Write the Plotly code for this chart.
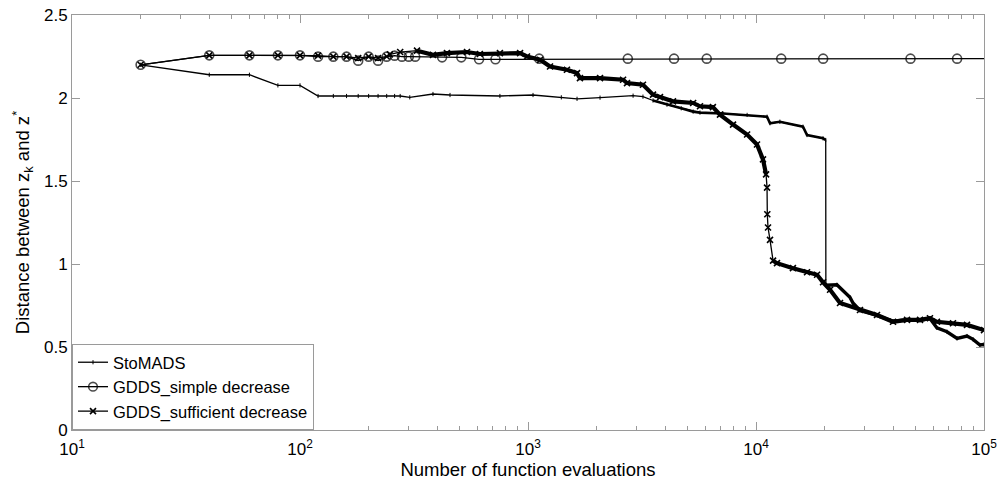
import plotly.graph_objects as go

# ---------------- data ----------------
simple_x = [20, 40, 60, 80, 100, 120, 140, 160, 180, 200, 220, 240, 260, 280, 300,
            320, 420, 510, 610, 720, 1120, 2740, 4370, 6080, 12900, 19700, 47600,
            76200, 100000]
simple_y = [2.20, 2.257, 2.257, 2.257, 2.257, 2.249, 2.249, 2.249, 2.225, 2.249,
            2.225, 2.249, 2.255, 2.249, 2.249, 2.249, 2.245, 2.245, 2.233, 2.233,
            2.237, 2.237, 2.237, 2.237, 2.237, 2.237, 2.237, 2.237, 2.237]

sto_x = [20, 40, 60, 80, 100, 120, 140, 160, 180, 200, 220, 240, 260, 275, 303,
         383, 455, 753, 1052, 1400, 1641, 2070, 2890, 3193, 3535, 4070, 4700, 5300,
         5680, 7160, 9140, 11180, 11520, 12730, 16070, 16740, 19680, 20220,
         20250, 22640, 25820, 26620, 28580, 33940, 39900, 45960, 52400, 57940,
         62170, 68800, 76200, 84200, 89560, 96000, 100000]
sto_y = [2.20, 2.14, 2.14, 2.076, 2.076, 2.012, 2.012, 2.012, 2.012, 2.012, 2.012,
         2.012, 2.012, 2.012, 2.004, 2.024, 2.018, 2.012, 2.018, 2.004, 1.995,
         2.002, 2.014, 2.008, 1.985, 1.960, 1.938, 1.918, 1.912, 1.907, 1.898,
         1.887, 1.848, 1.857, 1.827, 1.777, 1.757, 1.747,
         0.873, 0.875, 0.800, 0.765, 0.720, 0.690, 0.655, 0.665, 0.660, 0.672,
         0.615, 0.592, 0.552, 0.566, 0.546, 0.512, 0.515]

suff_x = [20, 40, 60, 80, 100, 120, 140, 160, 180, 200, 220, 240, 248, 275, 326,
          383, 441, 540, 615, 753, 923, 990, 1130, 1249, 1482, 1641, 1690, 2070,
          2612, 2718, 3193, 3535, 3793, 4325, 5300, 5680, 6470, 6950, 7930, 9140,
          10100, 10730, 11070, 11180, 11210, 11290, 11520, 11880, 12360, 14520,
          16740, 18530, 19680, 21130, 23360, 28580, 33940, 39900, 45960, 52400,
          57940, 62170, 73100, 84200, 100000]
suff_y = [2.20, 2.257, 2.257, 2.257, 2.257, 2.255, 2.249, 2.249, 2.240, 2.249,
          2.240, 2.250, 2.263, 2.277, 2.285, 2.260, 2.270, 2.277, 2.265, 2.270,
          2.270, 2.250, 2.230, 2.190, 2.170, 2.150, 2.120, 2.120, 2.110, 2.090,
          2.080, 2.020, 2.005, 1.980, 1.970, 1.950, 1.945, 1.900, 1.840, 1.780,
          1.720, 1.630, 1.540, 1.460, 1.300, 1.220, 1.145, 1.020, 1.005, 0.975,
          0.950, 0.935, 0.890, 0.845, 0.765, 0.723, 0.693, 0.652, 0.663, 0.663,
          0.673, 0.652, 0.643, 0.633, 0.602]

names = ["StoMADS", "GDDS_simple decrease", "GDDS_sufficient decrease"]
x_tick_vals = [10, 100, 1000, 10000, 100000]
x_tick_text = ["10<sup>1</sup>", "10<sup>2</sup>", "10<sup>3</sup>",
               "10<sup>4</sup>", "10<sup>5</sup>"]
x_minor_vals = [m * d for d in (10, 100, 1000, 10000) for m in range(2, 10)]
y_tick_vals = [0, 0.5, 1, 1.5, 2, 2.5]
y_tick_text = ["0", "0.5", "1", "1.5", "2", "2.5"]

# ---------------- figure ----------------
FONT = "Liberation Sans, Arial, sans-serif"
AX = "#9a9a9a"
fig = go.Figure()

# dense-evaluation bands (thick look of densely packed markers)
def band(xs, ys, a, b, w):
    fig.add_trace(go.Scatter(x=xs[a:b], y=ys[a:b], mode="lines",
                             line=dict(color="black", width=w),
                             showlegend=False, hoverinfo="skip"))

i_sto_drop = sto_x.index(20220)
i_sto_start = sto_x.index(3535)
band(sto_x, sto_y, i_sto_start, i_sto_drop + 1, 2.6)
band(sto_x, sto_y, i_sto_drop + 1, len(sto_x), 3.4)

i_suf_a = suff_x.index(326)
i_suf_b = suff_x.index(11070)
i_suf_c = suff_x.index(11880)
band(suff_x, suff_y, i_suf_a, i_suf_b + 1, 4.2)
band(suff_x, suff_y, i_suf_c, len(suff_x), 4.2)

fig.add_trace(go.Scatter(
    x=sto_x, y=sto_y, name=names[0], mode="lines+markers",
    line=dict(color="black", width=1.3),
    marker=dict(symbol="line-ns", size=3, color="black",
                line=dict(color="black", width=1))))
fig.add_trace(go.Scatter(
    x=simple_x, y=simple_y, name=names[1], mode="lines+markers",
    line=dict(color="black", width=1.3),
    marker=dict(symbol="circle-open", size=[9] * (len(simple_x) - 1) + [0],
                color="black", line=dict(color="black", width=1.6))))
fig.add_trace(go.Scatter(
    x=suff_x, y=suff_y, name=names[2], mode="lines+markers",
    line=dict(color="black", width=1.3),
    marker=dict(symbol="x-thin", size=6, color="black",
                line=dict(color="black", width=1.6))))

fig.update_layout(
    width=1000, height=486,
    margin=dict(l=72, r=16, t=15, b=56),
    paper_bgcolor="white", plot_bgcolor="white",
    font=dict(family=FONT, size=17, color="black"),
    legend=dict(x=0.0, y=0.0, xanchor="left", yanchor="bottom",
                bgcolor="white", bordercolor=AX, borderwidth=1,
                font=dict(size=16.5), itemwidth=30, tracegroupgap=0,
                traceorder="normal"),
    xaxis=dict(type="log", range=[1, 5], tickmode="array",
               tickvals=x_tick_vals, ticktext=x_tick_text,
               ticks="inside", ticklen=8, automargin=False,
               ticklabelstandoff=4,
               tickcolor=AX, showline=True, linecolor=AX, linewidth=1,
               mirror="ticks", showgrid=False, zeroline=False,
               tickfont=dict(size=17),
               minor=dict(tickmode="array", tickvals=x_minor_vals,
                          ticks="inside", ticklen=4, tickcolor=AX,
                          showgrid=False),
               title=dict(text="Number of function evaluations",
                          font=dict(size=18.5), standoff=4)),
    yaxis=dict(range=[0, 2.5], tickmode="array", tickvals=y_tick_vals,
               ticktext=y_tick_text, automargin=False,
               ticks="inside", ticklen=8, tickcolor=AX, showline=True,
               linecolor=AX, linewidth=1, mirror="ticks", showgrid=False,
               zeroline=False, tickfont=dict(size=17),
               title=dict(text="Distance between z<sub>k</sub> and z<sup>*</sup>",
                          font=dict(size=18.5), standoff=9)),
)

fig.write_html("out.html")
